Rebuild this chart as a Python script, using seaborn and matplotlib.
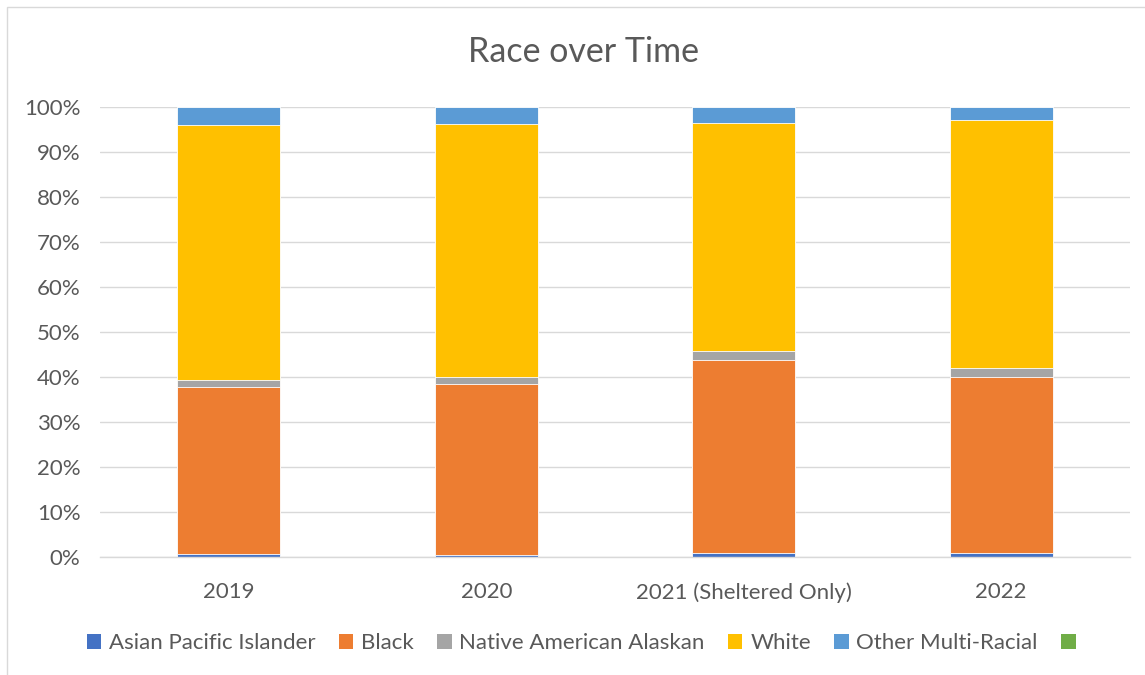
import matplotlib
matplotlib.use("Agg")
import matplotlib.pyplot as plt
from matplotlib.patches import Rectangle
import numpy as np
import pandas as pd
import seaborn as sns

years = ["2019", "2020", "2021 (Sheltered Only)", "2022"]
series = ["Asian Pacific Islander", "Black", "Native American Alaskan",
          "White", "Other Multi-Racial", ""]
asian_pacific = [0.6, 0.4, 1.0, 1.0]
black = [37.1, 38.0, 42.8, 38.9]
native_american = [1.6, 1.5, 2.0, 2.0]
white = [56.8, 56.4, 50.6, 55.1]
other_multi = [3.9, 3.7, 3.6, 3.0]
unlabeled = [0.0, 0.0, 0.0, 0.0]

colors = ["#4472C4", "#ED7D31", "#A5A5A5", "#FFC000", "#5B9BD5", "#70AD47"]
text_color = "#595959"

sns.set_theme(style="white")
plt.rcParams["font.family"] = ["Lato", "DejaVu Sans"]

values = np.array([asian_pacific, black, native_american, white,
                   other_multi, unlabeled]) / 100.0
tops = np.cumsum(values, axis=0)

fig = plt.figure(figsize=(11.45, 6.75), dpi=100)
ax = fig.add_axes([100 / 1145, 1 - 557 / 675, 1030 / 1145, 450 / 675])

# stacked bars: draw the running totals from the top segment downwards
for i in range(len(series) - 1, -1, -1):
    df = pd.DataFrame({"year": years, "top": tops[i]})
    sns.barplot(data=df, x="year", y="top", color=colors[i], width=0.4,
                saturation=1, edgecolor="white", linewidth=0.6, ax=ax,
                order=years, zorder=2 + (len(series) - i) * 0.01)

ax.set_ylim(0, 1.0)
ax.set_xlim(-0.5, 3.5)
ax.set_yticks(np.arange(0, 1.01, 0.1))
ax.set_yticklabels([f"{int(round(v * 100))}%" for v in np.arange(0, 1.01, 0.1)])
ax.yaxis.grid(True, color="#D9D9D9", linewidth=1.0, zorder=0)
ax.set_axisbelow(True)
ax.set_xlabel("")
ax.set_ylabel("")
for side in ["top", "right", "left"]:
    ax.spines[side].set_visible(False)
ax.spines["bottom"].set_color("#D9D9D9")
ax.spines["bottom"].set_linewidth(1.0)
ax.tick_params(axis="both", length=0, labelsize=16, colors=text_color)
ax.tick_params(axis="x", pad=18)
ax.tick_params(axis="y", pad=14)

fig.text(583 / 1145, 1 - 52 / 675, "Race over Time", ha="center", va="center",
         fontsize=24.5, color=text_color)

handles = [Rectangle((0, 0), 1, 1, facecolor=c, edgecolor="none") for c in colors]
fig.legend(handles, series, loc="center", bbox_to_anchor=(585 / 1145, 1 - 643 / 675),
           ncol=6, frameon=False, fontsize=16, labelcolor=text_color,
           handlelength=0.65, handleheight=0.65, handletextpad=0.35,
           columnspacing=1.05)

# chart area outline
fig.add_artist(Rectangle((7 / 1145, -0.01), 1.2, 1 - 7 / 675 + 0.01,
                         transform=fig.transFigure, fill=False,
                         edgecolor="#D9D9D9", linewidth=1.0))

fig.savefig("out.png", dpi=100, facecolor="white")
